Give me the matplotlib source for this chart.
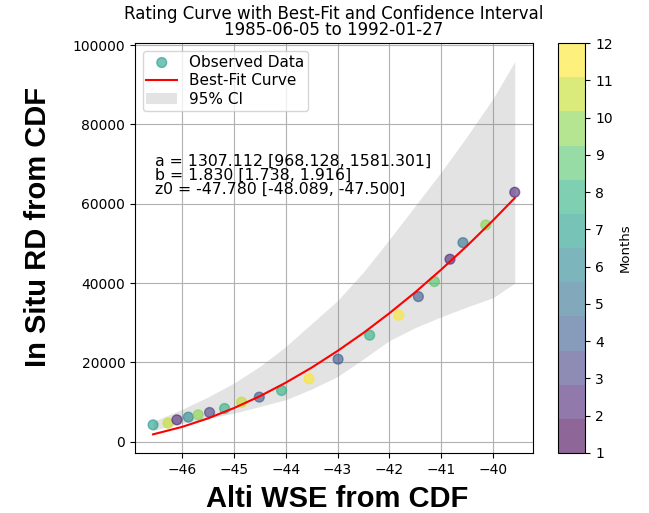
import matplotlib.pyplot as plt

# observed points (WSE, discharge, month)
wse = [-46.56, -46.27, -46.10, -45.88, -45.69, -45.47, -45.18, -44.85, -44.51, -44.08,
       -43.55, -42.99, -42.38, -41.82, -41.44, -41.13, -40.83, -40.58, -40.14, -39.58]
rd = [4280, 4700, 5540, 6220, 6800, 7390, 8400, 10000, 11260, 12930,
      15870, 20830, 26870, 31910, 36600, 40380, 46020, 50200, 54660, 62900]
months = [7, 11, 2, 6, 10, 3, 8, 11, 4, 8, 12, 4, 8, 12, 4, 9, 2, 5, 10, 2]

# best-fit curve and 95% band
fit_x = [-46.56, -46.0, -45.5, -45.0, -44.5, -44.0, -43.5, -43.0,
         -42.5, -42.0, -41.5, -41.0, -40.5, -40.0, -39.58]
fit_y = [1880, 3760, 5900, 8500, 11490, 14900, 18700, 22900,
         27450, 32400, 37700, 43400, 49400, 55800, 61440]
ci_low = [2900, 4600, 5900, 7200, 8900, 10600, 13300, 16450,
          20900, 25500, 28800, 31500, 34000, 36300, 40000]
ci_high = [5100, 8200, 11300, 14800, 19000, 24000, 29800, 35600,
           42800, 51000, 59500, 68000, 77000, 86500, 95800]

fig = plt.figure(figsize=(6.49, 5.13), dpi=100)
ax = fig.add_axes([0.208, 0.117, 0.613, 0.799])
cax = fig.add_axes([0.860, 0.117, 0.042, 0.799])

cmap = plt.get_cmap('viridis', 12)
sc = ax.scatter(wse, rd, c=months, cmap=cmap, vmin=1, vmax=12, s=50, alpha=0.6,
                label='Observed Data', zorder=3)
ax.plot(fit_x, fit_y, color='red', lw=1.5, label='Best-Fit Curve', zorder=4)
ax.fill_between(fit_x, ci_low, ci_high, color='gray', alpha=0.22, lw=0, label='95% CI')
ax.grid(True)
ax.set_axisbelow(True)

ax.text(0.05, 0.73,
        'a = 1307.112 [968.128, 1581.301]\nb = 1.830 [1.738, 1.916]\nz0 = -47.780 [-48.089, -47.500]',
        transform=ax.transAxes, va='top', fontsize=11.3, linespacing=0.93)

ax.legend(loc='upper left', fontsize=11, labelspacing=0.25, borderpad=0.25)
ax.set_title('Rating Curve with Best-Fit and Confidence Interval\n1985-06-05 to 1992-01-27',
             fontsize=12, linespacing=0.87)
ax.set_xlabel('WSE (m)')

cb = fig.colorbar(sc, cax=cax, ticks=range(1, 13))
cb.set_label('Months', fontsize=9.5)

# large overlay labels
fig.text(0.52, 0.012, 'Alti WSE from CDF', ha='center', va='baseline', fontsize=21,
         fontweight='bold', family='Liberation Sans',
         bbox=dict(facecolor='white', edgecolor='none', pad=1))
fig.text(0.059, 0.557, 'In Situ RD from CDF', ha='center', va='center', rotation=90,
         fontsize=21, fontweight='bold', family='Liberation Sans')

fig.savefig('out.png', dpi=100)
